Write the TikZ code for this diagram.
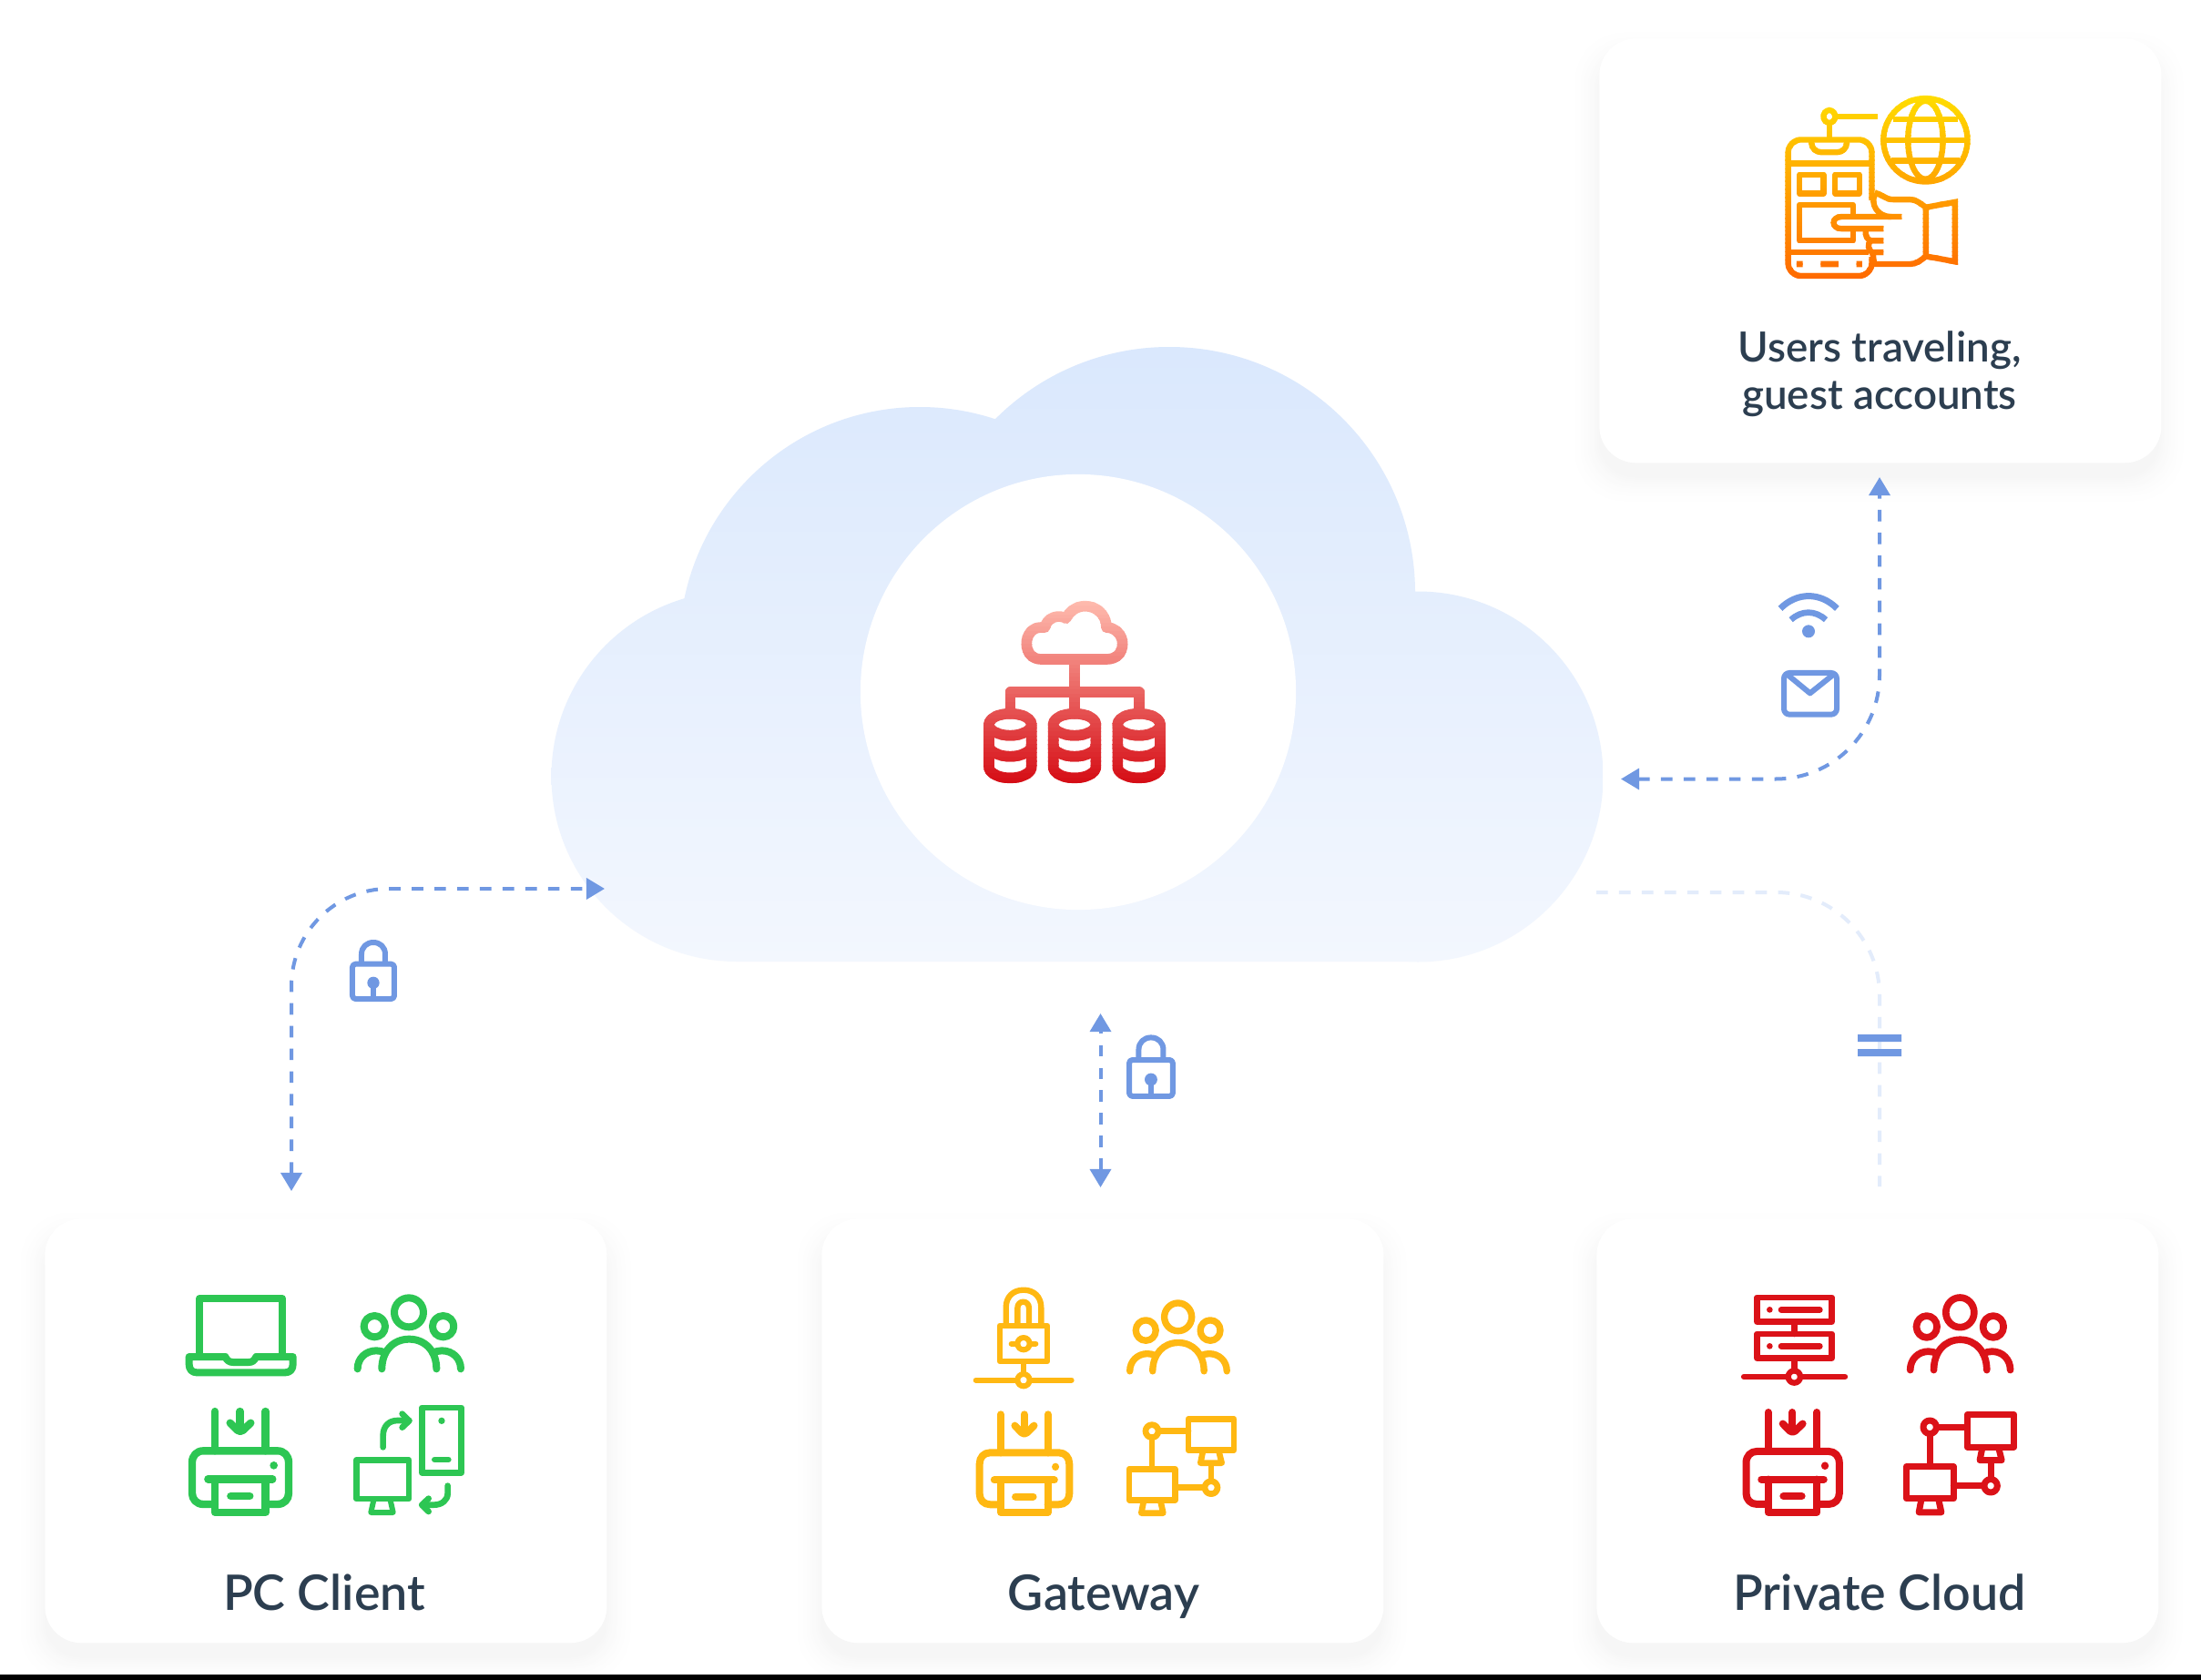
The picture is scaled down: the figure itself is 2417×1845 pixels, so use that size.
\documentclass[tikz,border=0pt]{standalone}
\usepackage{fontspec}
\setmainfont{Lato}
\newfontfamily\labfont{Lato Semibold}
\usetikzlibrary{arrows.meta}
\definecolor{cgreen}{HTML}{2DC653}
\definecolor{cyellow}{HTML}{FFB812}
\definecolor{cred}{HTML}{DB1218}
\definecolor{cblue}{HTML}{7098E2}
\definecolor{cfaint}{HTML}{E3ECFB}
\definecolor{ctext}{HTML}{2C3E50}
\definecolor{cloudtop}{HTML}{DAE8FD}
\definecolor{cloudbot}{HTML}{F3F7FE}
\definecolor{gradAtop}{HTML}{FFBDB0}
\definecolor{gradAbot}{HTML}{D50C14}
\definecolor{gradBtop}{HTML}{FFDD00}
\definecolor{gradBbot}{HTML}{FF6A00}
\colorlet{ic}{black}
\tikzset{
  zw/.style={line width=#1*0.1897pt},
  ico/.style={draw=ic,zw=#1,line cap=round,line join=round},
  icobutt/.style={draw=ic,zw=#1,line cap=butt,line join=round},
  dot/.style={fill=ic,draw=none},
  crop/.style={x=0.006667cm,y=-0.006667cm},
  card/.style={draw=none,fill=white,rounded corners=22.8pt,inner sep=0pt,minimum width=351.2pt,minimum height=265.2pt,anchor=north west},
  lbl/.style={font=\labfont\fontsize{30.6}{36}\selectfont,text=ctext,anchor=base,inner sep=0pt},
  lbltwo/.style={font=\labfont\fontsize{26}{29.6}\selectfont,text=ctext,align=center,inner sep=0pt},
  link/.style={draw=cblue,line width=2.28pt,dash pattern=on 7.2pt off 7pt,{Triangle[length=11.4pt,width=13pt]}-{Triangle[length=11.4pt,width=13pt]}},
  faint/.style={draw=cfaint,line width=2.28pt,dash pattern=on 7.2pt off 7pt},
}
% soft shadow: concentric flat layers
\newcommand\cardshadow[4]{%
  \foreach \e in {30,28,...,0}{%
    \pgfmathsetmacro\sh{3.6*(1-\e/32)^1.8}%
    \pgfmathsetmacro\rc{22.8+\e*0.3}%
    \fill[black!\sh!white,rounded corners=\rc pt]
      (#1-\e,#2+20-\e) rectangle (#3+\e,#4+16+\e);
  }}
% ---- repeated icons, in crop coordinates
\newcommand\peopleicon[5]{\begin{scope}[shift={(#1,#2)},xscale=#3,yscale=#4,shift={(-867,-184)}]
  \draw[ico=#5] (867,184) circle[radius=48];
  \draw[ico=#5] (754,230) circle[radius=35];
  \draw[ico=#5] (980,230) circle[radius=35];
  \draw[ico=#5] (778,370) .. controls (778,312) and (815,272) .. (868,272) .. controls (921,272) and (958,312) .. (958,370);
  \draw[ico=#5] (698,370) .. controls (698,335) and (725,310) .. (760,310) .. controls (770,310) and (780,312) .. (790,318);
  \draw[ico=#5] (1038,370) .. controls (1038,335) and (1011,310) .. (976,310) .. controls (966,310) and (956,312) .. (946,318);
\end{scope}}
\newcommand\printericon[5]{\begin{scope}[shift={(#1,#2)},xscale=#3,yscale=#4,shift={(-311,-510)}]
  \draw[ico=#5] (228,816) -- (190,816) .. controls (168,816) and (153,800) .. (153,780) -- (153,678) .. controls (153,656) and (168,640) .. (190,640) -- (434,640) .. controls (456,640) and (471,656) .. (471,678) -- (471,780) .. controls (471,800) and (456,816) .. (434,816) -- (395,816);
  \draw[ico=#5] (228,510) -- (228,640);
  \draw[ico=#5] (395,510) -- (395,640);
  \draw[ico=#5] (311,510) -- (311,572);
  \draw[ico=#5] (278,548) -- (302,572) .. controls (307,577) and (316,577) .. (321,572) -- (346,548);
  \fill[dot] (422,688) circle[radius=13];
  \draw[ico=#5] (205,733) -- (418,733);
  \draw[ico=#5] (228,733) -- (228,843) -- (395,843) -- (395,733);
  \draw[ico=#5] (280,789) -- (343,789);
\end{scope}}
\newcommand\networkicon[5]{\begin{scope}[shift={(#1,#2)},xscale=#3,yscale=#4,shift={(-590,-855)}]
  \draw[ico=#5] (795,535) rectangle (945,638);
  \draw[ico=#5] (843,640) -- (835,680) -- (905,680) -- (895,640);
  \draw[ico=#5] (600,700) rectangle (751,802);
  \draw[ico=#5] (648,804) -- (640,845) -- (712,845) -- (703,804);
  \draw[ico=#5] (675,575) circle[radius=21];
  \draw[ico=#5] (697,575) -- (795,575);
  \draw[ico=#5] (675,597) -- (675,700);
  \draw[ico=#5] (870,761) circle[radius=21];
  \draw[ico=#5] (870,685) -- (870,740);
  \draw[ico=#5] (751,761) -- (848,761);
\end{scope}}
\newcommand\lockicon[3]{\begin{scope}[shift={(#1,#2)},scale=#3,shift={(-390,-378)}]
  \colorlet{ic}{cblue}
  \draw[ico=18,rounded corners=2pt] (321,356) rectangle (459,471);
  \draw[icobutt=18] (351,356) -- (351,324) .. controls (351,300) and (368,285) .. (390,285) .. controls (412,285) and (429,300) .. (429,324) -- (429,356);
  \fill[cblue] (390,418) circle[radius=20];
  \fill[cblue] (382,418) rectangle (398,465);
\end{scope}}
% gradient strokes: the drawing is repeated through narrow horizontal clips
\newcommand\gradbands[7]{\foreach \gi in {0,...,44}{%
    \pgfmathsetmacro\gya{#2+(#3-#2)/45*\gi}%
    \pgfmathsetmacro\gyb{#2+(#3-#2)/45*(\gi+1.08)}%
    \pgfmathsetmacro\gpct{100/44*\gi}%
    \colorlet{ic}{#7!\gpct!#6}%
    \begin{scope}\clip (#4,\gya) rectangle (#5,\gyb); #1\end{scope}%
  }}
\newcommand\dbcyl[1]{\begin{scope}[shift={(#1,0)}]
  \draw[ico=35] (-70,527) .. controls (-70,507) and (-39,491) .. (0,491) .. controls (39,491) and (70,507) .. (70,527) .. controls (70,547) and (39,563) .. (0,563) .. controls (-39,563) and (-70,547) .. (-70,527) -- cycle;
  \draw[ico=35] (-70,527) -- (-70,667) .. controls (-70,687) and (-39,703) .. (0,703) .. controls (39,703) and (70,687) .. (70,667) -- (70,527);
  \draw[ico=35] (-70,596) .. controls (-70,616) and (-39,632) .. (0,632) .. controls (39,632) and (70,616) .. (70,596);
\end{scope}}
\newcommand\centralicon{%
  \draw[ico=35] (430,312) -- (645,312) .. controls (680,312) and (698,290) .. (698,260) .. controls (698,232) and (675,208) .. (645,207) .. controls (645,165) and (612,137) .. (575,137) .. controls (548,137) and (525,152) .. (512,177) .. controls (490,165) and (452,170) .. (442,207) -- (430,207) .. controls (400,207) and (382,232) .. (382,260) .. controls (382,290) and (400,312) .. (430,312) -- cycle;
  \draw[ico=35] (540,312) -- (540,490);
  \draw[ico=35] (328,490) -- (328,420) -- (752,420) -- (752,490);
  \dbcyl{328}\dbcyl{540}\dbcyl{752}}
\newcommand\travelicon{%
  \draw[icobutt=19,rounded corners=8pt] (778,640) -- (778,446) -- (577,446) -- (577,881) -- (778,881) -- (778,820);
  \draw[icobutt=19,rounded corners=6pt] (633,446) -- (633,486) -- (718,486) -- (718,446);
  \draw[icobutt=19] (577,522) -- (778,522);
  \draw[icobutt=19] (577,805) -- (770,805);
  \fill[ic] (597,833) rectangle (612,853) (655,833) rectangle (698,853) (741,833) rectangle (755,853);
  \draw[icobutt=19] (604,559) rectangle (662,618);
  \draw[icobutt=19] (690,559) rectangle (748,618);
  \draw[icobutt=19] (733,692) -- (733,654) -- (604,654) -- (604,768) -- (733,768) -- (733,738);
  \draw[icobutt=19] (850,692) -- (705,692) .. controls (680,692) and (680,730) .. (705,730) -- (806,730);
  \draw[icobutt=19] (763,735) .. controls (763,752) and (765,762) .. (775,768) -- (806,768);
  \draw[icobutt=19] (775,768) .. controls (768,780) and (768,795) .. (778,805) -- (806,805);
  \draw[icobutt=19] (778,805) .. controls (784,815) and (780,830) .. (785,843) -- (870,843) .. controls (885,843) and (895,832) .. (908,818);
  \draw[icobutt=19] (785,615) .. controls (800,618) and (810,637) .. (830,637) -- (870,637) .. controls (885,637) and (895,650) .. (908,662);
  \draw[icobutt=19] (785,622) .. controls (775,650) and (790,692) .. (825,692);
  \draw[icobutt=19,line join=miter] (908,662) -- (978,645) -- (978,835) -- (908,818) -- cycle;
  \draw[icobutt=19] (676,372) ellipse[x radius=14,y radius=20];
  \draw[icobutt=19] (676,392) -- (676,440);
  \draw[icobutt=19] (690,372) -- (792,372);
  \draw[icobutt=19] (907,447) ellipse[x radius=101,y radius=133];
  \draw[icobutt=19] (907,447) ellipse[x radius=42,y radius=125];
  \draw[icobutt=19] (830,380) -- (985,380);
  \draw[icobutt=19] (806,447) -- (1008,447);
  \draw[icobutt=19] (825,513) -- (990,513);
}
\begin{document}
\begin{tikzpicture}[x=0.02cm,y=-0.02cm]
\useasboundingbox (0,0) rectangle (2417,1845);
\fill[white] (0,0) rectangle (2417,1845);
% shadows
\cardshadow{1756}{42}{2371}{508}
\cardshadow{49}{1338}{666}{1804}
\cardshadow{902}{1338}{1518}{1804}
\cardshadow{1753}{1338}{2370}{1804}
\fill[black] (0,1839) rectangle (2417,1845);
% cloud
\shade[top color=cloudtop,bottom color=cloudbot]
  (809,852.5) circle[radius=203.5]
  (1010,711) circle[radius=264]
  (1284,651) circle[radius=270]
  (1557,853) circle[radius=203.5]
  (809,650) -- (1557,650) -- (1557,1056) -- (809,1056) -- cycle;
\node[circle,fill=white,draw=none,minimum size=272.2pt,inner sep=0pt] (hub) at (1184,760) {};
% cards
\node[card] (travel) at (1756,42) {};
\node[card] (pc) at (49,1338) {};
\node[card] (gate) at (902,1338) {};
\node[card] (priv) at (1753,1338) {};
% connector ends
\coordinate (pcEnd) at (320,1308);
\coordinate (cloudL) at (664,976);
\coordinate (gateEnd) at (1208.5,1304);
\coordinate (cloudB) at (1208.5,1113);
\coordinate (cloudR) at (1780,855.5);
\coordinate (travelEnd) at (2064,524);
\coordinate (cloudF) at (1753,980);
\coordinate (privEnd) at (2064,1303);
\draw[faint,rounded corners=64.5pt] (cloudF) -| (privEnd);
\draw[link,rounded corners=60.9pt] (pcEnd) |- (cloudL);
\draw[link] (gateEnd) -- (cloudB);
\draw[link,rounded corners=64.9pt] (cloudR) -| (travelEnd);
\fill[cblue] (2040,1136) rectangle (2088,1144) (2040,1152) rectangle (2088,1160);
% blue small icons
\begin{scope}[shift={(280,940)},crop]\lockicon{390}{378}{1}\end{scope}
\begin{scope}[shift={(280,940)},crop]\lockicon{2952}{695}{1.04}\end{scope}
\begin{scope}[shift={(1900,620)},crop]
  \colorlet{ic}{cblue}
  \fill[cblue] (258,220) circle[radius=21];
  \draw[icobutt=21] (165,145) .. controls (220,90) and (297,90) .. (352,145);
  \draw[icobutt=20] (200,182) .. controls (235,150) and (280,150) .. (315,182);
  \draw[ico=18,rounded corners=3.5pt] (177,357) rectangle (351,494);
  \draw[ico=18] (190,364) -- (263,424) -- (338,364);
\end{scope}
% central icon
\begin{scope}[shift={(1000,620)},crop]
  \gradbands{\centralicon}{110}{730}{220}{860}{gradAtop}{gradAbot}
\end{scope}
% travel icon
\begin{scope}[shift={(1700,0)},x=0.009145cm,y=-0.006888cm]
  \gradbands{\travelicon}{300}{895}{560}{1025}{gradBtop}{gradBbot}
\end{scope}
% PC client icons
\begin{scope}[shift={(160,1380)},crop]
  \colorlet{ic}{cgreen}
  \draw[ico=24] (177,330) -- (177,138) -- (450,138) -- (450,330);
  \draw[ico=24] (143,330) -- (262,330) .. controls (268,342) and (275,348) .. (288,348) -- (340,348) .. controls (352,348) and (358,342) .. (364,330) -- (485,330) -- (485,355) .. controls (485,372) and (475,382) .. (460,382) -- (168,382) .. controls (153,382) and (143,372) .. (143,355) -- cycle;
  \peopleicon{867}{184}{1}{1}{24}
  \printericon{311}{510}{1}{1}{25}
  \draw[ico=20] (910,498) rectangle (1040,712);
  \fill[dot] (975,541) circle[radius=11];
  \draw[ico=20] (952,669) -- (997,669);
  \draw[ico=20] (694,670) rectangle (867,798);
  \draw[ico=18] (752,798) -- (742,843) -- (815,843) -- (805,798);
  \draw[ico=20] (782,628) -- (782,590) .. controls (782,560) and (800,540) .. (830,540) -- (868,540);
  \draw[ico=20] (845,518) -- (868,541) -- (845,563);
  \draw[ico=20] (995,755) -- (995,780) .. controls (995,803) and (975,818) .. (950,818) -- (910,818);
  \draw[ico=20] (932,797) -- (910,818) -- (932,840);
\end{scope}
% Gateway icons
\begin{scope}[shift={(1040,1380)},crop]
  \colorlet{ic}{cyellow}
  \draw[ico=19] (174,227) rectangle (330,345);
  \draw[icobutt=19] (194,227) -- (194,168) .. controls (194,132) and (218,110) .. (252,110) .. controls (286,110) and (310,132) .. (310,168) -- (310,227);
  \draw[icobutt=19] (232,227) -- (232,170) .. controls (232,142) and (270,142) .. (270,170) -- (270,227);
  \draw[ico=18] (252,287) circle[radius=20];
  \draw[ico=18] (212,287) -- (232,287) (272,287) -- (292,287);
  \draw[ico=18] (252,345) -- (252,387);
  \draw[ico=18] (95,407) -- (232,407) (272,407) -- (410,407);
  \draw[ico=18] (252,407) circle[radius=20];
  \peopleicon{761}{199}{.94}{.96}{22}
  \printericon{254}{520}{.93}{.97}{24}
  \networkicon{590}{855}{1}{1}{20}
\end{scope}
% Private cloud icons
\begin{scope}[shift={(1880,1380)},crop]
  \colorlet{ic}{cred}
  \draw[ico=20] (148,135) rectangle (395,215);
  \draw[ico=20] (148,255) rectangle (395,335);
  \draw[ico=20] (271,215) -- (271,255);
  \fill[dot] (190,175) circle[radius=10];
  \fill[dot] (190,295) circle[radius=10];
  \draw[ico=20] (228,175) -- (355,175);
  \draw[ico=20] (228,295) -- (355,295);
  \draw[ico=20] (271,335) -- (271,376);
  \draw[ico=19] (105,396) -- (251,396) (291,396) -- (438,396);
  \draw[ico=19] (271,396) circle[radius=20];
  \peopleicon{817}{184}{.97}{1.02}{23}
  \printericon{265}{513}{.965}{.99}{24}
  \networkicon{630}{853}{1.03}{1.04}{21}
\end{scope}
% labels
\node[lbl] (pcLabel) at (356,1768) {PC Client};
\node[lbl] (gateLabel) at (1212,1768) {Gateway};
\node[lbl] (privLabel) at (2064,1768) {Private Cloud};
\node[lbltwo] (travelLabel) at (2064,411) {Users traveling,\\guest accounts};
\end{tikzpicture}
\end{document}
